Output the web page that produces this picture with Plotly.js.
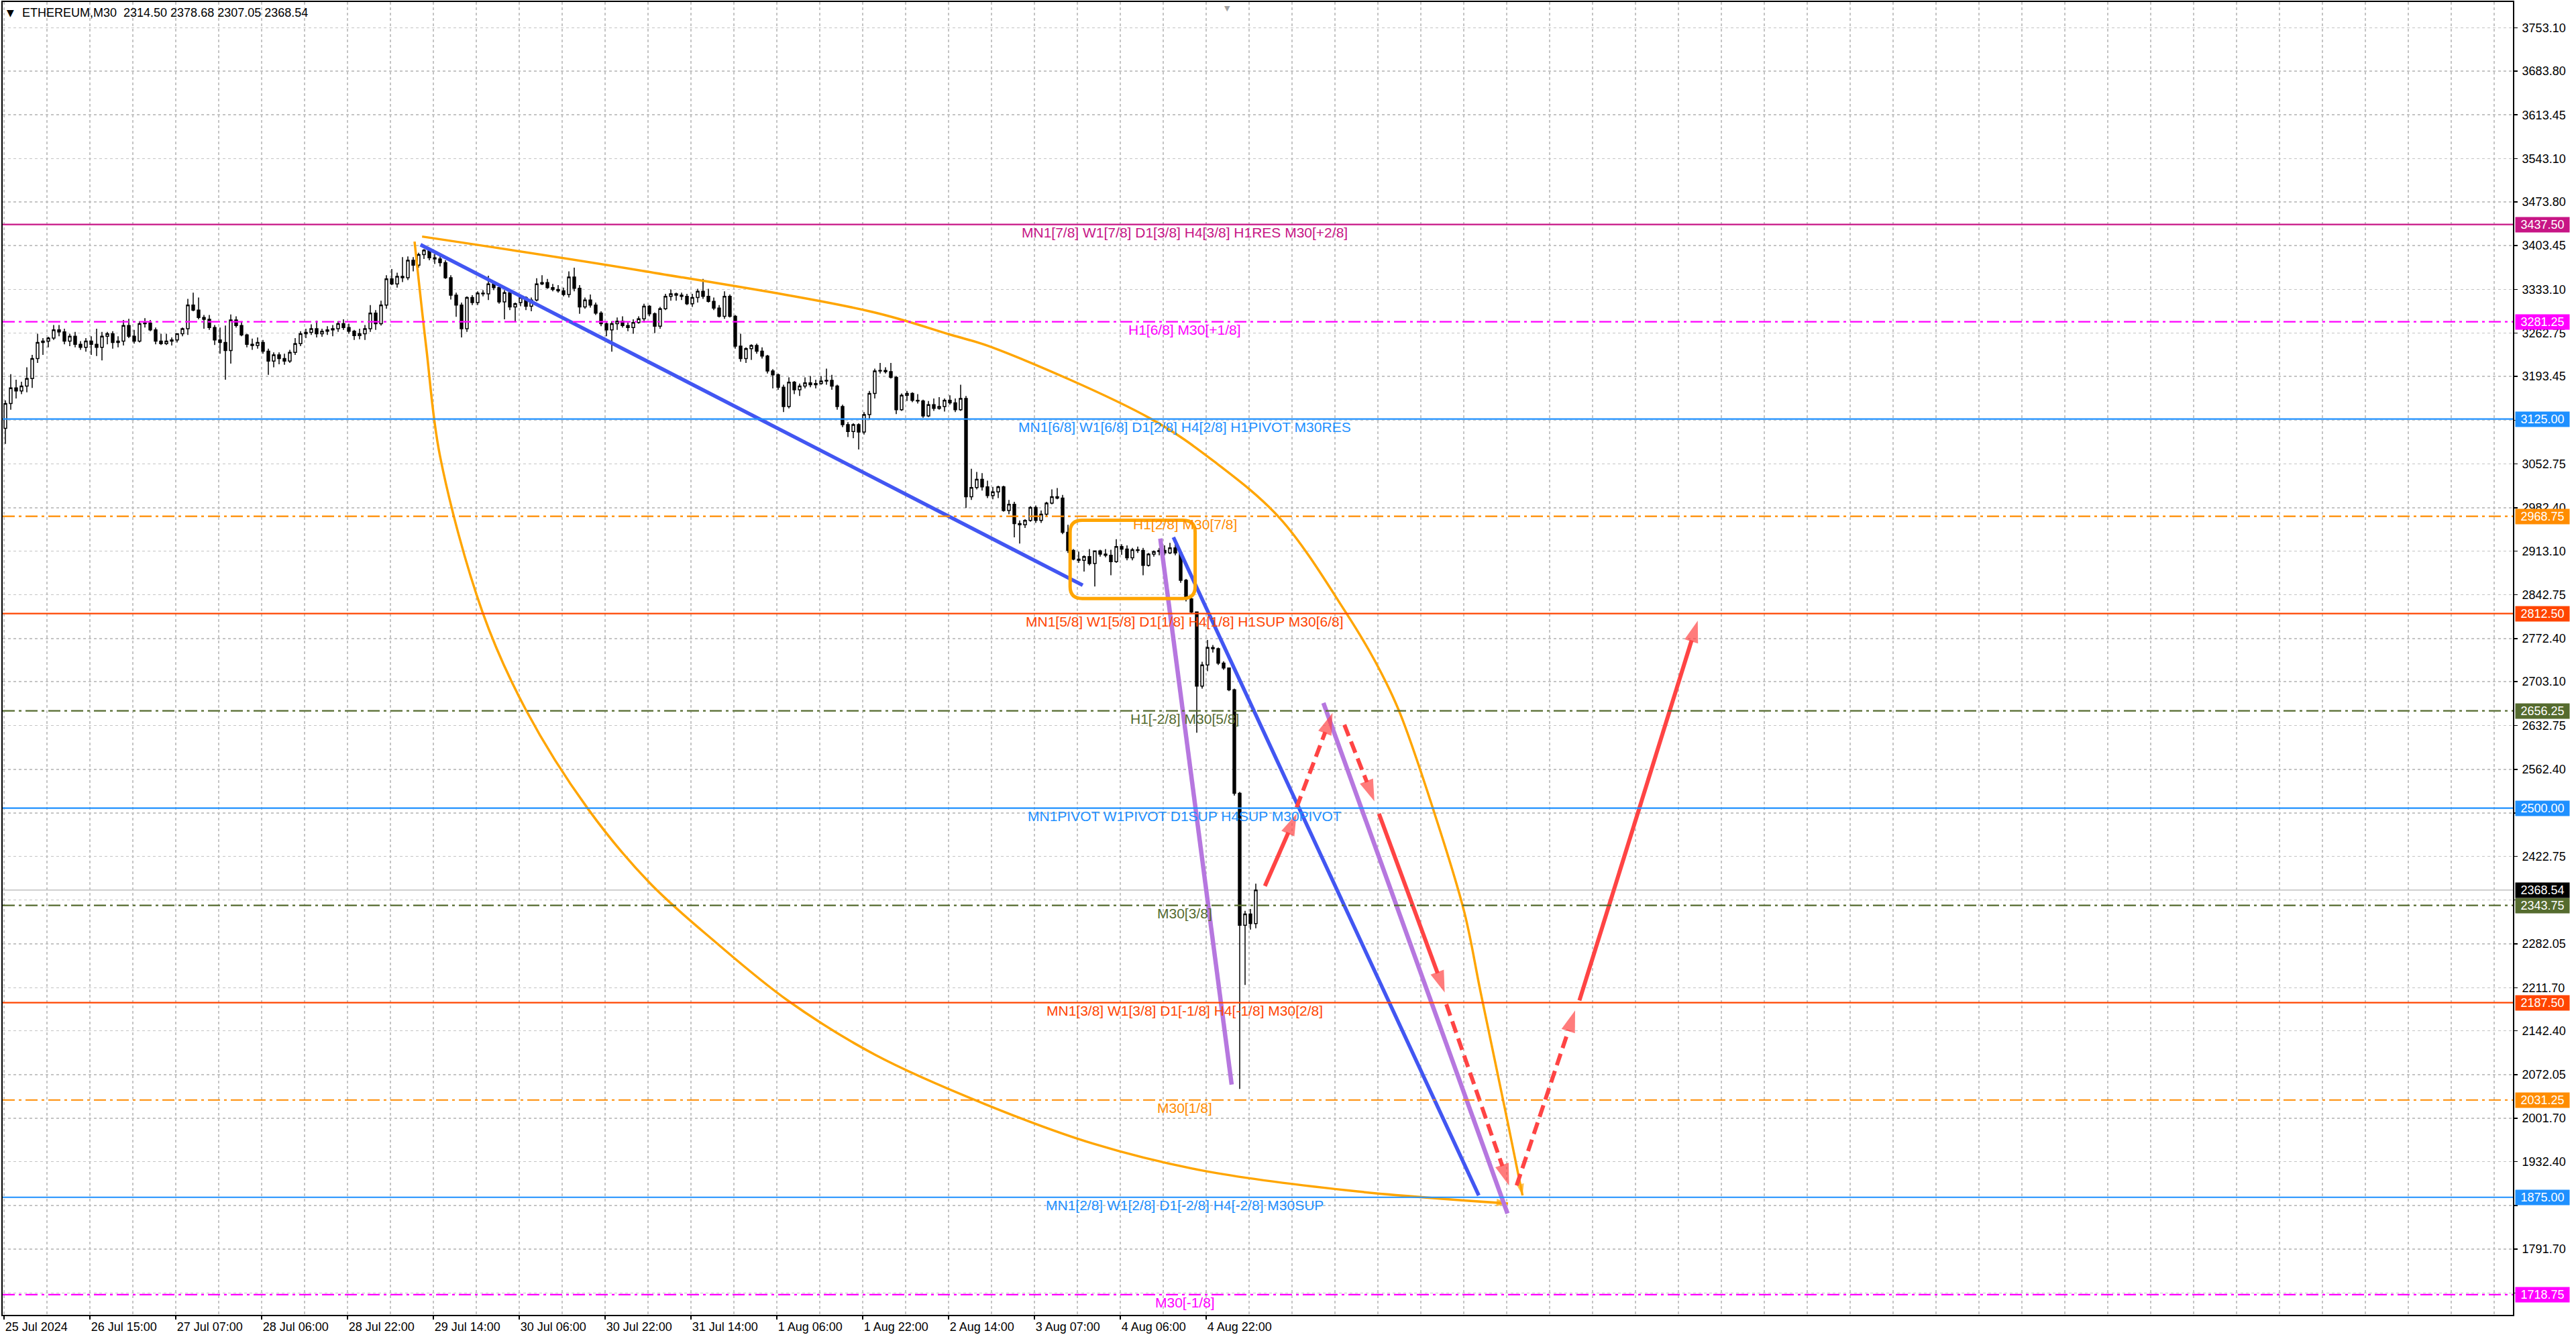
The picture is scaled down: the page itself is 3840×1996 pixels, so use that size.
<!DOCTYPE html>
<html><head><meta charset="utf-8">
<script src="https://cdn.plot.ly/plotly-3.0.1.min.js"></script>
<style>html,body{margin:0;padding:0;background:#fff;}#chart{width:3840px;height:1996px;}</style>
</head><body><div id="chart"></div>
<script>
// ---- candles (H1 aggregation of the M30 chart) ----
const openP = [3110,3150,3175,3170,3178,3190,3222,3248,3250,3255,
3268,3265,3250,3258,3245,3240,3250,3245,3240,3258,
3262,3248,3250,3275,3258,3250,3278,3279,3268,3250,
3246,3250,3252,3262,3270,3308,3300,3288,3285,3272,
3252,3248,3235,3284,3275,3260,3245,3243,3248,3234,
3218,3228,3222,3218,3232,3246,3262,3264,3270,3262,
3266,3268,3270,3278,3272,3266,3259,3262,3270,3295,
3278,3308,3350,3342,3354,3352,3380,3372,3389,3396,
3384,3382,3376,3352,3324,3308,3270,3320,3312,3327,
3326,3342,3336,3313,3328,3305,3312,3320,3306,3316,
3342,3344,3336,3333,3331,3325,3353,3335,3305,3316,
3308,3295,3278,3268,3278,3282,3275,3272,3280,3286,
3306,3294,3274,3302,3322,3326,3324,3322,3310,3320,
3330,3322,3314,3303,3290,3322,3290,3242,3222,3238,
3243,3234,3226,3202,3196,3176,3145,3184,3172,3178,
3183,3180,3182,3186,3187,3178,3145,3116,3105,3116,
3104,3132,3166,3202,3203,3201,3192,3140,3163,3166,
3155,3154,3130,3148,3142,3145,3155,3151,3140,3158,
3000,3015,3028,3016,3002,3008,3016,2978,2988,2957,
2955,2962,2983,2962,2972,2990,3000,2998,2943,2914,
2900,2898,2904,2893,2913,2908,2906,2896,2920,2916,
2902,2915,2914,2890,2908,2912,2914,2910,2918,2910,
2866,2836,2815,2696,2730,2758,2756,2733,2725,2690,
2524,2312,2330,2314.50];
const highP = [3155,3197,3188,3185,3208,3228,3262,3255,3257,3276,
3276,3270,3262,3265,3250,3255,3258,3270,3265,3265,
3266,3258,3284,3286,3268,3282,3287,3284,3272,3262,
3262,3256,3262,3272,3318,3328,3320,3292,3292,3276,
3272,3275,3293,3290,3282,3262,3254,3256,3252,3238,
3232,3232,3230,3236,3255,3266,3270,3277,3283,3270,
3274,3276,3282,3285,3278,3268,3270,3276,3308,3300,
3315,3356,3366,3360,3385,3386,3385,3392,3398,3400,
3390,3386,3380,3356,3328,3312,3322,3324,3330,3332,
3355,3346,3340,3332,3330,3312,3324,3322,3320,3351,
3356,3350,3342,3340,3336,3362,3368,3340,3320,3325,
3312,3298,3280,3282,3288,3290,3280,3285,3290,3310,
3308,3296,3305,3326,3333,3328,3328,3326,3326,3334,
3350,3334,3320,3308,3330,3325,3292,3262,3240,3245,
3246,3240,3228,3205,3198,3180,3192,3186,3182,3192,
3194,3188,3194,3206,3196,3180,3148,3120,3118,3118,
3136,3170,3206,3215,3208,3215,3194,3166,3170,3168,
3165,3156,3154,3158,3160,3158,3163,3158,3180,3162,
3045,3040,3038,3026,3016,3018,3018,2995,2992,2962,
2964,2985,2986,2978,2992,3012,3014,3003,2955,2916,
2912,2906,2916,2914,2915,2916,2915,2932,2924,2922,
2918,2920,2918,2910,2914,2918,2922,2926,2929,2912,
2868,2838,2816,2735,2770,2762,2758,2736,2726,2692,
2526,2335,2338,2378.68];
const lowP = [3085,3140,3158,3165,3168,3175,3215,3228,3240,3252,
3258,3245,3242,3240,3236,3233,3228,3226,3219,3245,
3238,3240,3243,3255,3246,3248,3272,3266,3245,3244,
3244,3243,3248,3258,3260,3298,3285,3270,3268,3244,
3230,3188,3214,3272,3258,3240,3236,3238,3230,3196,
3208,3213,3212,3215,3228,3242,3255,3260,3256,3257,
3260,3258,3265,3268,3262,3252,3253,3252,3265,3268,
3275,3302,3340,3336,3345,3348,3362,3368,3382,3380,
3374,3370,3350,3317,3289,3256,3265,3308,3308,3322,
3316,3332,3310,3285,3300,3281,3306,3300,3298,3314,
3340,3334,3330,3328,3322,3320,3330,3294,3302,3304,
3292,3274,3258,3233,3268,3272,3266,3262,3278,3280,
3290,3263,3270,3300,3315,3315,3316,3308,3305,3312,
3318,3312,3300,3288,3286,3288,3238,3217,3215,3220,
3230,3222,3198,3174,3172,3136,3142,3165,3162,3174,
3176,3174,3180,3180,3172,3140,3112,3096,3094,3076,
3100,3124,3158,3198,3198,3190,3133,3138,3154,3152,
3150,3127,3128,3138,3140,3137,3148,3136,3138,2982,
2995,3012,3010,2998,2996,2998,2976,2972,2935,2925,
2950,2960,2958,2958,2968,2988,2996,2940,2910,2898,
2894,2880,2890,2856,2904,2903,2874,2894,2907,2898,
2898,2910,2874,2888,2904,2906,2906,2908,2906,2862,
2832,2812,2621,2692,2720,2750,2730,2722,2688,2520,
2049,2216,2305,2307.05];
const closeP = [3150,3175,3170,3178,3190,3222,3248,3250,3255,3268,
3265,3250,3258,3245,3240,3250,3245,3240,3258,3262,
3248,3250,3275,3258,3250,3278,3279,3268,3250,3246,
3250,3252,3262,3270,3308,3300,3288,3285,3272,3252,
3248,3235,3284,3275,3260,3245,3243,3248,3234,3218,
3228,3222,3218,3232,3246,3262,3264,3270,3262,3266,
3268,3270,3278,3272,3266,3259,3262,3270,3295,3278,
3308,3350,3342,3354,3352,3380,3372,3389,3396,3384,
3382,3376,3352,3324,3308,3270,3320,3312,3327,3326,
3342,3336,3313,3328,3305,3310,3320,3306,3316,3342,
3344,3336,3333,3331,3325,3353,3335,3305,3316,3308,
3295,3278,3268,3278,3282,3275,3272,3280,3286,3306,
3294,3274,3302,3322,3326,3324,3322,3310,3320,3330,
3322,3314,3303,3290,3322,3290,3242,3222,3238,3243,
3234,3226,3202,3196,3176,3145,3184,3172,3178,3183,
3180,3182,3186,3187,3178,3145,3116,3105,3116,3104,
3132,3166,3202,3203,3201,3192,3140,3163,3166,3155,
3154,3130,3148,3142,3145,3155,3151,3140,3158,3000,
3015,3028,3016,3002,3008,3016,2978,2988,2957,2955,
2962,2983,2962,2972,2990,3000,2998,2943,2914,2900,
2898,2904,2893,2913,2908,2906,2896,2920,2916,2902,
2915,2914,2890,2908,2912,2914,2910,2918,2910,2866,
2836,2815,2696,2730,2758,2756,2733,2725,2690,2524,
2312,2330,2314.50,2368.54];

// ---- axes ----
const timeTickBars = [0,32,64,96,128,160,192,224,256,288,320,352,384,416,448];
const timeTickText = ['25 Jul 2024','26 Jul 15:00','27 Jul 07:00','28 Jul 06:00','28 Jul 22:00','29 Jul 14:00','30 Jul 06:00','30 Jul 22:00','31 Jul 14:00','1 Aug 06:00','1 Aug 22:00','2 Aug 14:00','3 Aug 07:00','4 Aug 06:00','4 Aug 22:00'];
const priceTicks = [3753.10,3683.80,3613.45,3543.10,3473.80,3403.45,3333.10,3262.75,3193.45,3123.10,3052.75,2982.40,2913.10,2842.75,2772.40,2703.10,2632.75,2562.40,2492.05,2422.75,2352.40,2282.05,2211.70,2142.40,2072.05,2001.70,1932.40,1862.05,1791.70,1721.35];
// tick labels covered by price tags in the reference
const hiddenTickLabels = [3123.10,2492.05,2352.40,1862.05];

// ---- Murrey levels ----
const levelPrices = [3437.50,3281.25,3125.00,2968.75,2812.50,2656.25,2500.00,2343.75,2187.50,2031.25,1875.00,1718.75];
const levelTexts = ['MN1[7/8] W1[7/8] D1[3/8] H4[3/8] H1RES M30[+2/8]','H1[6/8] M30[+1/8]','MN1[6/8] W1[6/8] D1[2/8] H4[2/8] H1PIVOT M30RES','H1[2/8] M30[7/8]','MN1[5/8] W1[5/8] D1[1/8] H4[1/8] H1SUP M30[6/8]','H1[-2/8] M30[5/8]','MN1PIVOT W1PIVOT D1SUP H4SUP M30PIVOT','M30[3/8]','MN1[3/8] W1[3/8] D1[-1/8] H4[-1/8] M30[2/8]','M30[1/8]','MN1[2/8] W1[2/8] D1[-2/8] H4[-2/8] M30SUP','M30[-1/8]'];
const levelColors = ['#C71585','#FF00FF','#1E90FF','#FF8C00','#FF4500','#556B2F','#1E90FF','#556B2F','#FF4500','#FF8C00','#1E90FF','#FF00FF'];
const levelDashed = [false,true,false,true,false,true,false,true,false,true,false,true];
const lastPrice = 2368.54;
const header = 'ETHEREUM,M30\u00a0\u00a02314.50 2378.68 2307.05 2368.54';

// ---- drawings (bar index, price) ----
const blueTrendA = [[155.2,3405],[402.0,2858]];
const blueTrendB = [[435.8,2935],[549.6,1878]];
const purpleTrendA = [[430.9,2933],[457.5,2056]];
const purpleTrendB = [[491.7,2669],[560.3,1849]];
const boxCorners = [[397.3,2836.7],[443.9,2962.4]];
const orangeUpper = [[155.8,3418],[237.9,3363],[323.6,3297],[353.0,3260],[368.3,3240],[427.1,3126],[450.9,3057],[475.6,2965],[499.8,2816],[511.2,2734],[519.8,2657],[532.4,2501],[544.2,2333],[550.3,2204],[560.5,1993],[565.9,1878]];
const orangeLower = [[153.0,3410],[157.4,3238],[162.5,3065],[178.3,2815],[194.6,2657],[217.6,2499],[240.6,2380],[265.1,2285],[292.1,2191],[324.6,2104],[365.4,2025],[406.0,1961],[446.6,1918],[500.9,1886],[560.5,1865]];
const redSolid = [[[469.9,2375],[481.7,2491]],[[512.4,2491],[536.9,2204]],[[587.1,2191],[631.2,2801]]];
const redDashed = [[[481.7,2501],[495.1,2653]],[[499.5,2634],[510.7,2511]],[[537.5,2185],[560.9,1894]],[[563.7,1894],[585.5,2175]]];

// ---- build ----
const FONT = 'Liberation Sans, Arial, sans-serif';
const barX = openP.map((_, i) => 2 * i + 0.5);
const traces = [];
traces.push({
  type: 'candlestick', x: barX, open: openP, high: highP, low: lowP, close: closeP,
  increasing: {line: {color: '#000', width: 1.5}, fillcolor: '#fff'},
  decreasing: {line: {color: '#000', width: 1.5}, fillcolor: '#000'},
  whiskerwidth: 0, hoverinfo: 'skip', showlegend: false
});
function seg(pts, color, width, dash, shape) {
  return {type: 'scatter', mode: 'lines', x: pts.map(p => p[0]), y: pts.map(p => p[1]),
    line: {color: color, width: width, dash: dash || 'solid', shape: shape || 'linear', smoothing: 1},
    hoverinfo: 'skip', showlegend: false};
}
function arrowSeg(pts, color, width, dash, shape, headSize) {
  const t = seg(pts, color, width, dash, shape);
  t.mode = 'lines+markers';
  t.marker = {symbol: 'arrow', angleref: 'previous', color: color,
    size: pts.map((_, i) => i === pts.length - 1 ? headSize : 0), line: {width: 0}};
  return t;
}
traces.push(arrowSeg(orangeUpper, '#FFA500', 3.5, 'solid', 'spline', 18));
traces.push(arrowSeg(orangeLower, '#FFA500', 3.5, 'solid', 'spline', 18));
traces.push(seg(blueTrendA, '#4256F2', 5.5));
traces.push(seg(blueTrendB, '#4256F2', 5.5));
traces.push(seg(purpleTrendA, '#B677DF', 6.5));
traces.push(seg(purpleTrendB, '#B677DF', 6.5));
redSolid.forEach(p => traces.push(arrowSeg(p, '#FF4444', 6, 'solid', 'linear', 34)));
redDashed.forEach(p => traces.push(arrowSeg(p, '#FF4444', 6, '18px,9px', 'linear', 34)));

const shapes = [];
levelPrices.forEach((p, i) => shapes.push({type: 'line', xref: 'paper', x0: 0, x1: 1, yref: 'y', y0: p, y1: p,
  line: {color: levelColors[i], width: 2.2, dash: levelDashed[i] ? '18px,6px,4px,6px' : 'solid'}, layer: 'above'}));
shapes.push({type: 'line', xref: 'paper', x0: 0, x1: 1, yref: 'y', y0: lastPrice, y1: lastPrice,
  line: {color: '#C0C0C0', width: 1.5}, layer: 'below'});
{
  const x0 = boxCorners[0][0], y0 = boxCorners[0][1], x1 = boxCorners[1][0], y1 = boxCorners[1][1];
  const rx = 4.5, ry = 19;
  const path = `M${x0+rx},${y1} L${x1-rx},${y1} Q${x1},${y1} ${x1},${y1-ry} L${x1},${y0+ry} Q${x1},${y0} ${x1-rx},${y0} L${x0+rx},${y0} Q${x0},${y0} ${x0},${y0+ry} L${x0},${y1-ry} Q${x0},${y1} ${x0+rx},${y1} Z`;
  shapes.push({type: 'path', xref: 'x', yref: 'y', path: path, line: {color: '#FFA500', width: 5}, layer: 'above'});
}

const annotations = [];
levelPrices.forEach((p, i) => {
  annotations.push({x: 440, y: p, xref: 'x', yref: 'y', xanchor: 'center', yanchor: 'top', text: levelTexts[i],
    showarrow: false, font: {family: FONT, size: 21, color: levelColors[i]}, borderpad: 0, yshift: 1});
  annotations.push({x: 1, y: p, xref: 'paper', yref: 'y', xanchor: 'left', yanchor: 'middle', xshift: 3,
    text: p.toFixed(2), showarrow: false, bgcolor: levelColors[i], width: 80, height: 22, align: 'center',
    borderpad: 0, font: {family: FONT, size: 18, color: '#fff'}});
});
annotations.push({x: 1, y: lastPrice, xref: 'paper', yref: 'y', xanchor: 'left', yanchor: 'middle', xshift: 3,
  text: lastPrice.toFixed(2), showarrow: false, bgcolor: '#000', width: 80, height: 22, align: 'center',
  borderpad: 0, font: {family: FONT, size: 18, color: '#fff'}});
annotations.push({x: 0, y: 1, xref: 'paper', yref: 'paper', xanchor: 'left', yanchor: 'middle', xshift: 4, yshift: -16,
  text: '\u25BC', showarrow: false, font: {family: 'DejaVu Sans', size: 14, color: '#000'}});
annotations.push({x: 0, y: 1, xref: 'paper', yref: 'paper', xanchor: 'left', yanchor: 'middle', xshift: 27, yshift: -16,
  text: header, showarrow: false, font: {family: FONT, size: 18, color: '#000'}});
annotations.push({x: 1873/3840, y: 1, xref: 'paper', yref: 'paper', xanchor: 'center', yanchor: 'top', yshift: -1,
  text: '\u25BC', showarrow: false, font: {family: 'DejaVu Sans', size: 11, color: '#A0A0A0'}});

const gridStyle = {gridcolor: '#C4C4C4', gridwidth: 1.5, griddash: '4px,4px'};
const layout = {
  width: 3840, height: 1996,
  margin: {l: 4, r: 94, t: 3, b: 36, pad: 0},
  paper_bgcolor: '#fff', plot_bgcolor: '#fff',
  showlegend: false, dragmode: false,
  xaxis: Object.assign({
    type: 'linear', range: [-0.5, 935], rangeslider: {visible: false},
    tickmode: 'array', tickvals: timeTickBars, ticktext: timeTickText,
    ticklabelposition: 'outside right',
    tickfont: {family: FONT, size: 18, color: '#000'},
    ticks: 'outside', ticklen: 5, tickcolor: '#000', tickwidth: 1.5,
    showgrid: true, zeroline: false,
    showline: true, linecolor: '#000', linewidth: 2, mirror: true,
    minor: {tickmode: 'linear', tick0: 0, dtick: 16, showgrid: true, gridcolor: '#C4C4C4', gridwidth: 1.5, griddash: '4px,4px', ticks: ''},
    fixedrange: true
  }, gridStyle),
  yaxis: Object.assign({
    side: 'right', range: [1686.2, 3794.7],
    tickmode: 'array', tickvals: priceTicks,
    ticktext: priceTicks.map(v => hiddenTickLabels.includes(v) ? '' : v.toFixed(2)),
    tickfont: {family: FONT, size: 18, color: '#000'},
    ticks: 'outside', ticklen: 5, tickcolor: '#000', tickwidth: 1.5, ticklabelstandoff: 3,
    showgrid: true, zeroline: false,
    showline: true, linecolor: '#000', linewidth: 2, mirror: true,
    fixedrange: true
  }, gridStyle),
  shapes: shapes, annotations: annotations
};
Plotly.newPlot('chart', traces, layout, {displayModeBar: false, staticPlot: true});
</script>
</body></html>
